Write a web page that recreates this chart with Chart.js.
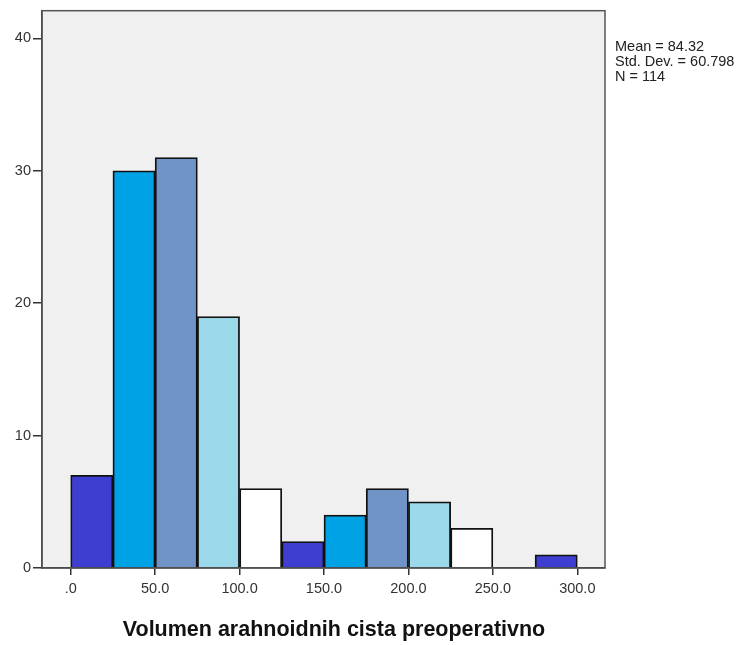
<!DOCTYPE html>
<html>
<head>
<meta charset="utf-8">
<script src="https://cdn.jsdelivr.net/npm/chart.js@4"></script>
<style>
  html, body { margin: 0; padding: 0; background: #fff; }
  #wrap { width: 742px; height: 645px; }
</style>
</head>
<body>
<div id="wrap"><canvas id="histChart"></canvas></div>
<script>
// bins of width 25, from 0 to 300
const binCenters = [12.5, 37.5, 62.5, 87.5, 112.5, 137.5, 162.5, 187.5, 212.5, 237.5, 262.5, 287.5];
const counts = [7, 30, 31, 19, 6, 2, 4, 6, 5, 3, 0, 1];
const barColors = ['#3e3fd0', '#00a2e6', '#7094c8', '#9ad8ea', '#ffffff',
                   '#3e3fd0', '#00a2e6', '#7094c8', '#9ad8ea', '#ffffff',
                   '#3e3fd0', '#3e3fd0'];
const xTickValues = [0, 50, 100, 150, 200, 250, 300];
const yTickValues = [0, 10, 20, 30, 40];
const statsLines = ['Mean = 84.32', 'Std. Dev. = 60.798', 'N = 114'];
const axisTitle = 'Volumen arahnoidnih cista preoperativno';

const tickFont = { family: 'Liberation Sans, Arial, sans-serif', size: 14.5 };

const plotFrame = {
  id: 'plotFrame',
  beforeDraw(chart) {
    const { ctx, chartArea: a } = chart;
    ctx.save();
    ctx.fillStyle = '#f0f0f0';
    ctx.fillRect(a.left, a.top, a.right - a.left, a.bottom - a.top);
    ctx.restore();
  },
  afterDraw(chart) {
    const { ctx, chartArea: a } = chart;
    ctx.save();
    ctx.strokeStyle = '#555';
    ctx.lineWidth = 1.5;
    ctx.strokeRect(a.left, a.top, a.right - a.left, a.bottom - a.top);

    ctx.fillStyle = '#222';
    ctx.font = '14.5px "Liberation Sans", Arial, sans-serif';
    ctx.textBaseline = 'middle';
    ctx.textAlign = 'left';
    statsLines.forEach((line, i) => {
      ctx.fillText(line, a.right + 10, 47 + i * 15);
    });

    // axis title, SPSS puts it a bit right of the plot centre
    ctx.fillStyle = '#111';
    ctx.font = 'bold 21.5px "Liberation Sans", Arial, sans-serif';
    ctx.textAlign = 'center';
    ctx.fillText(axisTitle, 334, 630);
    ctx.restore();
  }
};

new Chart(document.getElementById('histChart').getContext('2d'), {
  type: 'bar',
  data: {
    datasets: [{
      label: 'Frequency',
      data: binCenters.map((c, i) => ({ x: c, y: counts[i] })),
      backgroundColor: barColors,
      borderColor: '#111',
      borderWidth: 1.8,
      barPercentage: 1,
      categoryPercentage: 1
    }]
  },
  options: {
    responsive: true,
    maintainAspectRatio: false,
    animation: false,
    layout: { padding: { top: 10, right: 137, left: 0, bottom: 0 } },
    plugins: {
      legend: { display: false },
      tooltip: { enabled: false }
    },
    scales: {
      x: {
        type: 'linear',
        min: -17,
        max: 316.4,
        offset: false,
        afterBuildTicks: scale => { scale.ticks = xTickValues.map(v => ({ value: v })); },
        afterFit: scale => { scale.height = 77; },
        ticks: {
          color: '#333',
          font: tickFont,
          padding: 5,
          maxRotation: 0,
          callback: v => (v === 0 ? '.0' : v.toFixed(1))
        },
        grid: { offset: false, drawOnChartArea: false, tickLength: 7, color: '#333', lineWidth: 1.5 },
        border: { display: true, color: '#333', width: 1.5 }
      },
      y: {
        min: 0,
        max: 42.1,
        afterBuildTicks: scale => { scale.ticks = yTickValues.map(v => ({ value: v })); },
        afterFit: scale => { scale.width = 42; },
        ticks: { color: '#333', font: tickFont, padding: 2 },
        grid: { drawOnChartArea: false, tickLength: 9, color: '#333', lineWidth: 1.5 },
        border: { display: true, color: '#333', width: 1.5 }
      }
    }
  },
  plugins: [plotFrame]
});
</script>
</body>
</html>
